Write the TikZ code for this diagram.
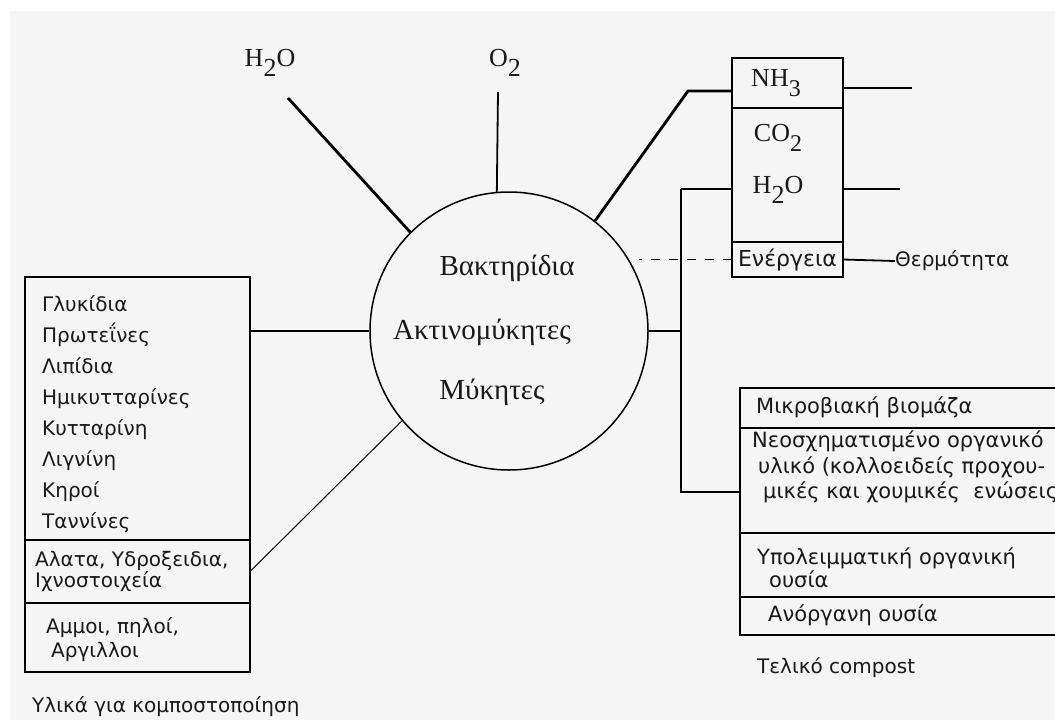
\documentclass[tikz,border=0pt]{standalone}
\usepackage{fontspec}
\setmainfont{DejaVu Sans}
\newfontfamily\chemfont{Liberation Serif}
\usetikzlibrary{positioning}

% lowered index of a formula
\newcommand\lowidx[1]{\raisebox{-.4em}{#1}}

\tikzset{
  row/.style={draw, line width=1.4pt, outer sep=0pt, inner sep=0pt, anchor=north west},
  txt/.style={anchor=west, inner sep=0pt, align=left, text=black!90,
    font=\fontsize{20}{31}\selectfont},
  chem/.style={inner sep=0pt, text=black!90, font=\chemfont\fontsize{26}{26}\selectfont},
  link/.style={line width=1.8pt},
}

\begin{document}
\begin{tikzpicture}[x=1pt,y=-1pt]
 \useasboundingbox (0,0) rectangle (1055,720);
 \fill[black!4] (10,11) rectangle (1055,720);

 % micro-organisms
 \node[draw,circle,line width=1.5pt,minimum size=278pt,inner sep=0pt] (mikroorg) at (509,331) {};
 \node[chem, font=\chemfont\fontsize{29}{29}\selectfont] (bakt) at (507,268) {Βακτηρίδια};
 \node[chem, font=\chemfont\fontsize{29}{29}\selectfont] (aktino) at (482,332) {Ακτινομύκητες};
 \node[chem, font=\chemfont\fontsize{29}{29}\selectfont] (mykit) at (492,392) {Μύκητες};

 % water and oxygen
 \node[chem] (h2olab) at (270,63) {H\lowidx{2}O};
 \node[chem] (o2lab) at (505,63) {O\lowidx{2}};
 \coordinate (h2oend) at (288,98);
 \coordinate (o2end) at (498,92);
 \draw[line width=2.8pt] (h2oend) -- (mikroorg.135);
 \draw[link] (o2end) -- (mikroorg.95);

 % raw materials
 \node[row, minimum width=225pt, minimum height=263pt] (organics) at (25,277) {};
 \node[row, minimum width=225pt, minimum height=63pt, below=0pt of organics] (salts) {};
 \node[row, minimum width=225pt, minimum height=69pt, below=0pt of salts] (soils) {};
 \node[txt] (orgtxt) at (42,414) {Γλυκίδια\\Πρωτεΐνες\\Λιπίδια\\Ημικυτταρίνες\\Κυτταρίνη\\Λιγνίνη\\Κηροί\\Ταννίνες};
 \node[txt, font=\fontsize{20}{21}\selectfont] (salttxt) at (35,571) {Αλατα, Υδροξειδια,\\Ιχνοστοιχεία};
 \node[txt, font=\fontsize{20}{24}\selectfont] (soiltxt) at (46,640) {Αμμοι, πηλοί,\\\hspace*{5pt}Αργιλλοι};
 \node[txt] (rawlab) at (32,707) {Υλικά για κομποστοποίηση};
 \draw[link] (mikroorg.west) -- (mikroorg.west -| organics.east);
 \draw[line width=1pt] (mikroorg.220) -- (salts.east);

 % gases and energy
 \node[row, minimum width=111pt, minimum height=50pt] (gasnh) at (732,58) {};
 \node[row, minimum width=111pt, minimum height=134pt, below=0pt of gasnh] (gasmid) {};
 \node[row, minimum width=111pt, minimum height=35pt, below=0pt of gasmid] (energy) {};
 \node[chem] (nh3) at (776,83) {NH\lowidx{\fontsize{24}{24}\selectfont 3}};
 \node[chem] (co2) at (778,138) {CO\lowidx{\fontsize{24}{24}\selectfont 2}};
 \node[chem] (h2obox) at (778,190) {H\lowidx{2}O};
 \node[txt, anchor=center, font=\fontsize{22}{22}\selectfont] (energytxt) at (energy.center) {Ενέργεια};
 \node[txt] (heat) at (895,261) {Θερμότητα};
 \coordinate (bend) at (688,91);
 \coordinate (nhout) at (912,88);
 \coordinate (junction) at (681,189);
 \coordinate (h2oout) at (900,189);
 \draw[line width=2.8pt] (mikroorg.52) -- (bend) -- (bend -| gasnh.west);
 \draw[link] (gasnh.east |- nhout) -- (nhout);
 \draw[link] (junction) -- (junction -| gasmid.west);
 \draw[link] (gasmid.east |- h2oout) -- (h2oout);
 \draw[link, dash pattern=on 9pt off 9pt] (energy.west) -- (energy.west -| mikroorg.22);
 \draw[link] (energy.east) -- (heat.west);

 % final compost
 \node[row, minimum width=330pt, minimum height=40pt] (biomass) at (740,388) {};
 \node[row, minimum width=330pt, minimum height=105pt, below=0pt of biomass] (newmatter) {};
 \node[row, minimum width=330pt, minimum height=64pt, below=0pt of newmatter] (residue) {};
 \node[row, minimum width=330pt, minimum height=38pt, below=0pt of residue] (inorganic) {};
 \node[txt, font=\fontsize{21}{21}\selectfont] (biotxt) at (756,407) {Μικροβιακή βιομάζα};
 \node[txt, font=\fontsize{21}{25.5}\selectfont] (newtxt) at (752,467)
   {Νεοσχηματισμένο οργανικό\\\hspace*{6pt}υλικό (κολλοειδείς προχου-\\\hspace*{11pt}μικές και χουμικές\ \ ενώσεις};
 \node[txt, font=\fontsize{21}{23}\selectfont] (restxt) at (757,568) {Υπολειμματική οργανική\\\hspace*{12pt}ουσία};
 \node[txt, font=\fontsize{21}{21}\selectfont] (inorgtxt) at (768,615) {Ανόργανη ουσία};
 \node[txt] (compostlab) at (757,668) {Τελικό compost};
 \coordinate (foot) at (681,492);
 \draw[link] (mikroorg.east) -- (mikroorg.east -| junction);
 \draw[link] (junction) -- (foot) -- (foot -| newmatter.west);
\end{tikzpicture}
\end{document}
